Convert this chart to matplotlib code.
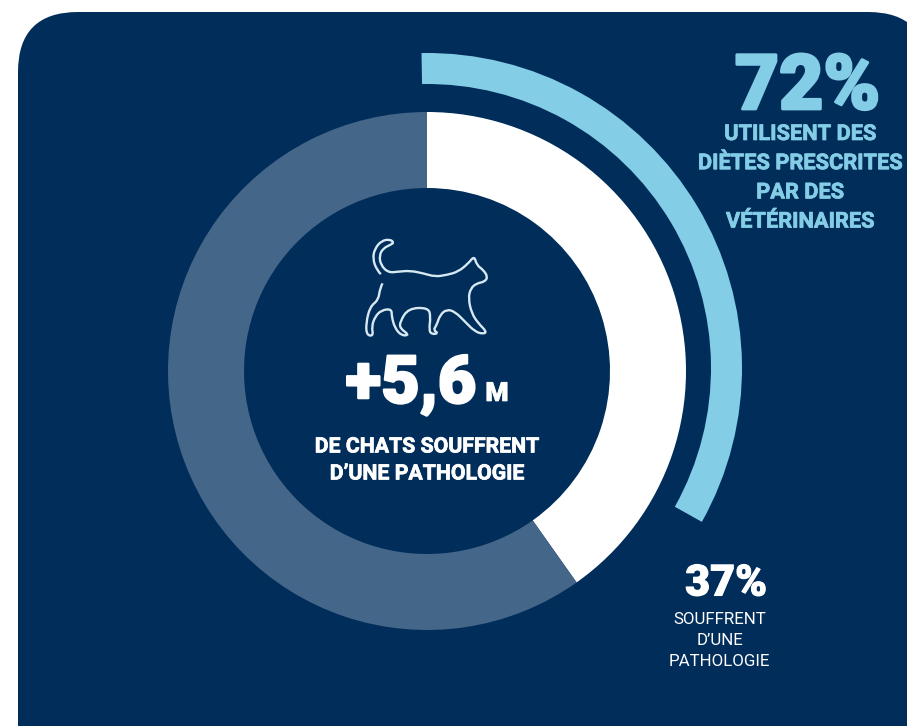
import matplotlib
matplotlib.use("Agg")
import matplotlib.patheffects as pe
import matplotlib.pyplot as plt
from matplotlib.patches import FancyBboxPatch, PathPatch
from matplotlib.path import Path

# shares as drawn in the picture (the printed labels say 37 and 72)
inner_shares = [40.2, 59.8]
outer_shares = [33.4, 66.6]

big_left = "+5,6"
big_unit = "M"
center_lines = ["DE CHATS SOUFFRENT", "D\u2019UNE PATHOLOGIE"]
top_pct = "72%"
top_lines = ["UTILISENT DES", "DI\u00c8TES PRESCRITES", "PAR DES", "V\u00c9T\u00c9RINAIRES"]
low_pct = "37%"
low_lines = ["SOUFFRENT", "D\u2019UNE", "PATHOLOGIE"]

# cat outline
cat_x = [135, 110, 98, 105, 125, 150, 162, 150, 130, 118, 122, 145, 175, 210, 250, 285, 320, 355, 385, 403,
         410, 430, 443, 435, 410, 392, 385, 395, 415, 440, 430, 405, 375, 345, 320, 300, 290, 280, 295, 275,
         267, 272, 265, 205, 180, 180, 208, 185, 165, 155, 155, 125, 105, 95, 100, 80, 78, 90, 115, 120, 135]
cat_y = [175, 150, 115, 85, 62, 58, 68, 75, 85, 105, 135, 158, 155, 152, 160, 170, 165, 155, 130, 108,
         135, 150, 170, 185, 190, 205, 235, 280, 310, 335, 342, 335, 305, 275, 268, 285, 315, 330, 340, 343,
         330, 290, 263, 265, 305, 325, 345, 347, 325, 290, 267, 270, 290, 320, 348, 345, 310, 260, 240, 205, 175]

NAVY = "#012d5a"
LIGHT = "#84cde6"
SLATE = "#446689"
FONT = ["Roboto", "DejaVu Sans"]

fig = plt.figure(figsize=(9.07, 7.26), dpi=100, facecolor="white")
ax = fig.add_axes([0, 0, 1, 1])
ax.set_xlim(0, 907)
ax.set_ylim(726, 0)
ax.axis("off")

ax.add_patch(FancyBboxPatch((78, 72), 790, 700, boxstyle="round,pad=60,rounding_size=60",
                            fc=NAVY, ec="none"))

# pie flips with the inverted y axis, so it runs counterclock here
ax.pie(inner_shares, colors=["white", SLATE], center=(427, 371), radius=259, startangle=-90,
       counterclock=True, wedgeprops={"width": 76, "linewidth": 0}, frame=True)
ax.pie(outer_shares, colors=[LIGHT, "none"], center=(427, 368), radius=315, startangle=-91,
       counterclock=True, wedgeprops={"width": 31, "linewidth": 0}, frame=True)
ax.set_xlim(0, 907)
ax.set_ylim(726, 0)
ax.set_aspect("auto")
ax.axis("off")

# smooth outline through midpoints
pts = [(340 + x / 3, 220 + y / 3) for x, y in zip(cat_x, cat_y)]
verts = [((pts[0][0] + pts[1][0]) / 2, (pts[0][1] + pts[1][1]) / 2)]
codes = [Path.MOVETO]
for i in range(1, len(pts) - 1):
    mid = ((pts[i][0] + pts[i + 1][0]) / 2, (pts[i][1] + pts[i + 1][1]) / 2)
    verts += [pts[i], mid]
    codes += [Path.CURVE3, Path.CURVE3]
ax.add_patch(PathPatch(Path(verts, codes), fc="none", ec="#d6e8f2", lw=1.7))


def label(x, y, s, size, color, weight="bold", heavy=0.0):
    t = ax.text(x, y, s, fontsize=size, color=color, fontweight=weight, family=FONT,
                ha="center", va="center")
    if heavy:
        t.set_path_effects([pe.withStroke(linewidth=heavy, foreground=color)])
    return t


label(411, 385, big_left, 48, "white", "black", 1.5)
label(497, 394, big_unit, 19, "white", "black", 0.5)
for i, s in enumerate(center_lines):
    label(427, 447 + i * 27, s, 15.3, "white", heavy=0.5)

label(807.5, 88, top_pct, 55, LIGHT, "black", 2)
for i, s in enumerate(top_lines):
    label(800, 134 + i * 29.2, s, 15.7, LIGHT, heavy=0.5)

label(726, 584, low_pct, 31, "white", "black", 0.8)
for i, s in enumerate(low_lines):
    label(719.5, 620 + i * 20.5, s, 12.2, "white", "normal")

fig.savefig("out.png", dpi=100, facecolor="white")
